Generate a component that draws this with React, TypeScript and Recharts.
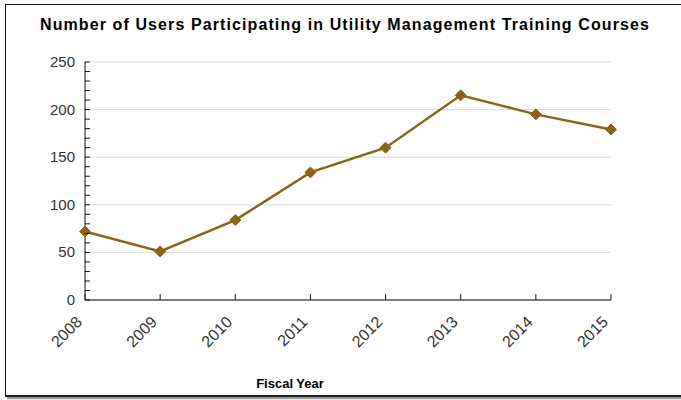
import React from "react";
import { LineChart, Line, XAxis, YAxis, CartesianGrid, Label } from "recharts";

const years = ["2008", "2009", "2010", "2011", "2012", "2013", "2014", "2015"];
const users = [72, 51, 84, 134, 160, 215, 195, 179];
// every 10 gets a small mark; every 50 also gets a label and a grid line
const yTicks = [0, 10, 20, 30, 40, 50, 60, 70, 80, 90, 100, 110, 120, 130, 140, 150, 160, 170, 180, 190, 200, 210, 220, 230, 240, 250];
const labelStep = 50;

const data = years.map((year, i) => ({ year, users: users[i] }));

const LINE_COLOR = "#8b6516";
const AXIS_COLOR = "#111";

const Diamond = (props: any) => {
  const { cx, cy } = props;
  if (cx == null || cy == null) return null;
  const r = 5.5;
  return (
    <path
      d={`M${cx},${cy - r} L${cx + r},${cy} L${cx},${cy + r} L${cx - r},${cy} Z`}
      fill={LINE_COLOR}
      stroke={LINE_COLOR}
    />
  );
};

// x tick: mark points up into the plot, label rotated below
const YearTick = (props: any) => {
  const { x, y, payload } = props;
  const tx = x - 2;
  const ty = y + 23;
  return (
    <g>
      <line x1={x} x2={x} y1={y} y2={y - 6} stroke={AXIS_COLOR} />
      <text
        x={tx}
        y={ty}
        transform={`rotate(-45, ${tx}, ${ty})`}
        textAnchor="end"
        fill="#333"
        fontSize={16}
      >
        {payload.value}
      </text>
    </g>
  );
};

// y tick: mark points right into the plot, label only on multiples of 50
const ValueTick = (props: any) => {
  const { x, y, payload } = props;
  const showLabel = payload.value % labelStep === 0;
  return (
    <g>
      <line x1={x} x2={x + 5} y1={y} y2={y} stroke={AXIS_COLOR} />
      {showLabel && (
        <text x={x - 10} y={y} dy={5} textAnchor="end" fill="#333" fontSize={15}>
          {payload.value}
        </text>
      )}
    </g>
  );
};

const GridLine = (props: any) => {
  const { x1, x2, y1, y2, index } = props;
  if (index % (labelStep / 10) !== 0) return <g />;
  return <line x1={x1} x2={x2} y1={y1} y2={y2} stroke="#dcdcdc" />;
};

export default function App() {
  return (
    <div
      style={{
        position: "absolute",
        left: 0,
        top: 0,
        width: 681,
        height: 400,
        overflow: "hidden",
        background: "#fff",
        fontFamily: "'Liberation Sans', Arial, sans-serif",
      }}
    >
      <div
        style={{
          position: "absolute",
          left: 5,
          top: 4,
          width: 700,
          height: 390,
          borderLeft: "1px solid #111",
          borderTop: "1px solid #111",
          borderBottom: "2px solid #222",
          boxShadow: "2px 2px 1px #999",
        }}
      />
      <div
        style={{
          position: "absolute",
          left: 0,
          top: 16,
          width: 690,
          textAlign: "center",
          fontSize: 16,
          letterSpacing: 1.1,
          fontWeight: "bold",
          color: "#000",
        }}
      >
        Number of Users Participating in Utility Management Training Courses
      </div>
      <div style={{ position: "absolute", left: 0, top: 0 }}>
        <LineChart
          width={681}
          height={400}
          data={data}
          margin={{ top: 62, right: 70, bottom: 10, left: 25 }}
        >
          <CartesianGrid vertical={false} horizontal={<GridLine />} />
          <XAxis
            dataKey="year"
            height={90}
            axisLine={{ stroke: AXIS_COLOR }}
            tickLine={false}
            tickSize={0}
            tickMargin={0}
            interval={0}
            tick={<YearTick />}
          >
            <Label
              value="Fiscal Year"
              position="insideBottom"
              offset={2}
              dx={-58}
              style={{ fontWeight: "bold", fontSize: 13, fill: "#000" }}
            />
          </XAxis>
          <YAxis
            width={60}
            domain={[0, 250]}
            ticks={yTicks}
            interval={0}
            axisLine={{ stroke: AXIS_COLOR }}
            tickLine={false}
            tickSize={0}
            tickMargin={0}
            tick={<ValueTick />}
          />
          <Line
            type="linear"
            dataKey="users"
            stroke={LINE_COLOR}
            strokeWidth={2.5}
            dot={<Diamond />}
            activeDot={false}
            isAnimationActive={false}
          />
        </LineChart>
      </div>
    </div>
  );
}
